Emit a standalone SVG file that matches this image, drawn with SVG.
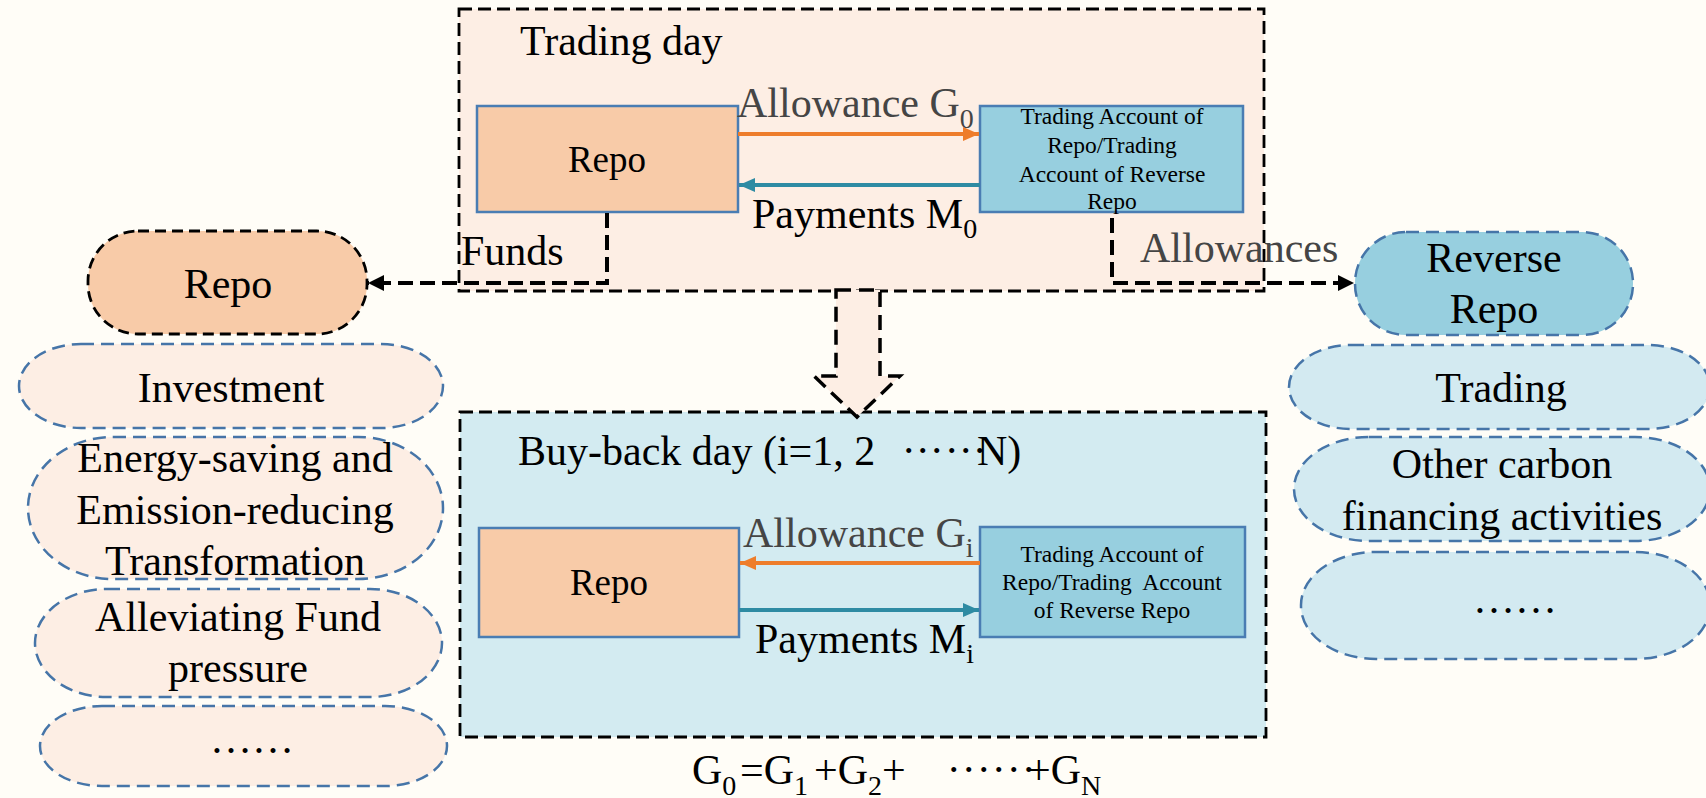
<svg xmlns="http://www.w3.org/2000/svg" width="1706" height="798" viewBox="0 0 1706 798">
<style>
text{font-family:"Liberation Serif","Times New Roman",serif;fill:#000;}
.big{font-size:42px;}
.mid{font-size:37px;}
.small{font-size:23.5px;text-anchor:middle;}
.gray{fill:#454545;}
.sub{font-size:28px;}
.c{text-anchor:middle;}
.box{stroke:#000;stroke-width:2.8;stroke-dasharray:13 6;}
.rect{stroke:#4a7db3;stroke-width:2.5;}
.pillL{fill:#fdeee4;stroke:#4675a8;stroke-width:2.5;stroke-dasharray:13 7;}
.pillR{fill:#d3eaf1;stroke:#4675a8;stroke-width:2.5;stroke-dasharray:13 7;}
.conn{fill:none;stroke:#000;stroke-width:4;stroke-dasharray:15 7;}
</style>
<defs>
<marker id="mBlack" markerUnits="userSpaceOnUse" markerWidth="18" markerHeight="16" refX="16" refY="8" orient="auto">
<path d="M0,0 L16,8 L0,16 Z" fill="#000"/>
</marker>
<marker id="mOrange" markerUnits="userSpaceOnUse" markerWidth="18" markerHeight="16" refX="16" refY="8" orient="auto">
<path d="M0,1 L16,8 L0,15 Z" fill="#ee7d2b"/>
</marker>
<marker id="mTeal" markerUnits="userSpaceOnUse" markerWidth="18" markerHeight="16" refX="16" refY="8" orient="auto">
<path d="M0,1 L16,8 L0,15 Z" fill="#2e8ba3"/>
</marker>
</defs>
<rect x="0" y="0" width="1706" height="798" fill="#fffdf7"/>

<g id="trading-day">
<rect class="box" x="459" y="9" width="805" height="282" fill="#fdeee4"/>
<text class="big" x="520" y="55">Trading day</text>
</g>

<g id="buyback-day">
<rect class="box" x="460" y="412" width="806" height="325" fill="#d3ebf1"/>
<text class="big" x="518" y="465">Buy-back day (i=1, 2<tspan x="901.75 915.75 929.75 944.75 958.75 972.75">······</tspan><tspan x="977">N)</tspan></text>
</g>

<g id="repo-top">
<rect class="rect" x="477" y="106" width="261" height="106" fill="#f8cba8"/>
<text class="mid c" x="607" y="172">Repo</text>
</g>
<g id="account-top">
<rect class="rect" x="980" y="106" width="263" height="106" fill="#97cfdf"/>
<text class="small" x="1112" y="124">Trading Account of</text>
<text class="small" x="1112" y="153">Repo/Trading</text>
<text class="small" x="1112" y="181.5">Account of Reverse</text>
<text class="small" x="1112" y="209">Repo</text>
</g>

<g id="repo-bottom">
<rect class="rect" x="479" y="528" width="260" height="109" fill="#f8cba8"/>
<text class="mid c" x="609" y="595">Repo</text>
</g>
<g id="account-bottom">
<rect class="rect" x="980" y="527" width="265" height="110" fill="#97cfdf"/>
<text class="small" x="1112" y="561.5">Trading Account of</text>
<text class="small" x="1112" y="590" style="white-space:pre">Repo/Trading  Account</text>
<text class="small" x="1112" y="618">of Reverse Repo</text>
</g>

<g id="repo-pill">
<rect x="88" y="231" width="279" height="103" rx="50" ry="50" fill="#f8cba8" stroke="#000" stroke-width="2.8" stroke-dasharray="11 6"/>
<text class="big c" x="228" y="298">Repo</text>
</g>
<g id="investment">
<rect class="pillL" x="19" y="344" width="424" height="84" rx="62" ry="42"/>
<text class="big c" x="231" y="402">Investment</text>
</g>
<g id="energy">
<rect class="pillL" x="28" y="437" width="415" height="142" rx="85" ry="71"/>
<text class="big c" x="235" y="472">Energy-saving and</text>
<text class="big c" x="235" y="524">Emission-reducing</text>
<text class="big c" x="235" y="575">Transformation</text>
</g>
<g id="alleviating">
<rect class="pillL" x="35" y="589" width="407" height="108" rx="72" ry="54"/>
<text class="big c" x="238" y="631">Alleviating Fund</text>
<text class="big c" x="238" y="682">pressure</text>
</g>
<g id="left-more">
<rect class="pillL" x="40" y="706" width="407" height="80" rx="62" ry="40"/>
<text class="big c" x="252" y="753">……</text>
</g>

<g id="reverse-repo-pill">
<rect x="1355" y="232" width="278" height="103" rx="51" ry="51" fill="#97cfdf" stroke="#4675a8" stroke-width="2.5" stroke-dasharray="13 7"/>
<text class="big c" x="1494" y="272">Reverse</text>
<text class="big c" x="1494" y="323">Repo</text>
</g>
<g id="trading-pill">
<rect class="pillR" x="1289" y="345" width="421" height="84" rx="62" ry="42"/>
<text class="big c" x="1501" y="402">Trading</text>
</g>
<g id="other-pill">
<rect class="pillR" x="1294" y="437" width="416" height="104" rx="75" ry="52"/>
<text class="big c" x="1502" y="478">Other carbon</text>
<text class="big c" x="1502" y="530">financing activities</text>
</g>
<g id="right-more">
<rect class="pillR" x="1301" y="552" width="409" height="107" rx="75" ry="53"/>
<text class="big c" x="1515" y="613">……</text>
</g>

<g id="connectors">
<line x1="738" y1="134" x2="979" y2="134" stroke="#ee7d2b" stroke-width="4" marker-end="url(#mOrange)"/>
<line x1="980" y1="185" x2="739" y2="185" stroke="#2e8ba3" stroke-width="4" marker-end="url(#mTeal)"/>
<line x1="980" y1="563" x2="740" y2="563" stroke="#ee7d2b" stroke-width="4" marker-end="url(#mOrange)"/>
<line x1="739" y1="610" x2="979" y2="610" stroke="#2e8ba3" stroke-width="4" marker-end="url(#mTeal)"/>
<path class="conn" d="M607,213 V283 H368" marker-end="url(#mBlack)"/>
<path class="conn" d="M1112,218 V283 H1354" marker-end="url(#mBlack)"/>
<polygon points="836,290 880,290 880,376 900,376 857,417 814,376 836,376" fill="#fdeee4" stroke="#000" stroke-width="3.5" stroke-dasharray="15 8"/>
</g>

<g id="labels">
<text class="big gray" x="737" y="117">Allowance G<tspan class="sub" dy="11">0</tspan></text>
<text class="big" x="752" y="228">Payments M<tspan class="sub" dy="10">0</tspan></text>
<text class="big gray" x="743" y="547">Allowance G<tspan class="sub" dy="10">i</tspan></text>
<text class="big" x="755" y="653">Payments M<tspan class="sub" dy="10">i</tspan></text>
<text class="big" x="461" y="265">Funds</text>
<text class="big gray" x="1140" y="262">Allowances</text>
<text class="big" x="692" y="784">G<tspan class="sub" y="795">0</tspan><tspan x="740" y="784">=G</tspan><tspan class="sub" y="795">1</tspan><tspan x="814" y="784">+G</tspan><tspan class="sub" y="795">2</tspan><tspan y="784">+</tspan><tspan x="946.75 961.75 976.75 991.75 1006.75 1021.75" y="784">······</tspan><tspan x="1027" y="784">+G</tspan><tspan class="sub" y="795">N</tspan></text>
</g>
</svg>
